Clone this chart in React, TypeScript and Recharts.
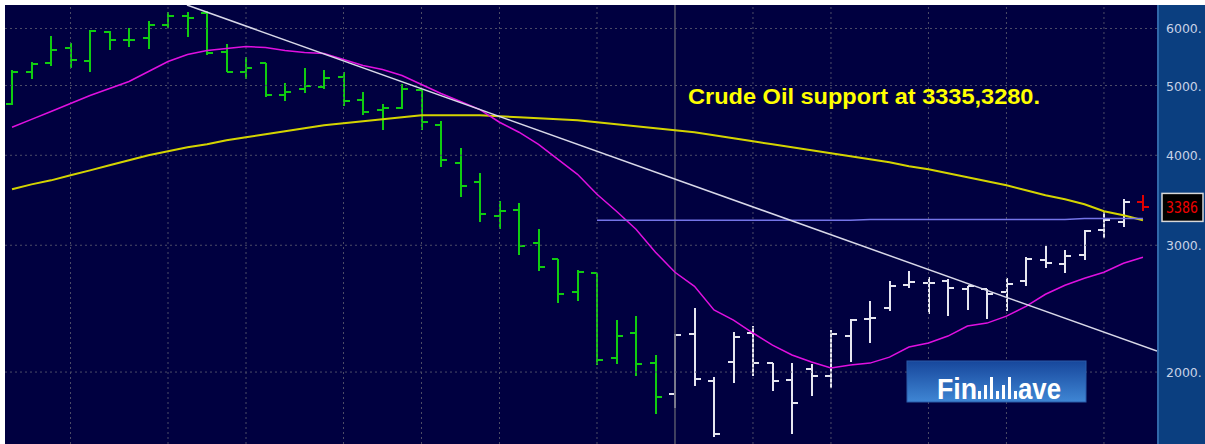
import { ComposedChart, Bar, Line, XAxis, YAxis, ReferenceLine } from 'recharts';

// weekly OHLC
const opens = [4720, 5229, 5365, 5646, 5399, 5924, 5774, 5811, 6077, 6235, 6295, 5574, 5213, 5365, 4858, 4952, 4984, 5146, 4781, 4616, 4660, 4936, 4403, 3899, 3669, 3292, 3356, 3019, 2869, 2582, 2743, 2092, 2266, 2058, 1864, 2258, 1943, 2065, 2266, 2058, 1949, 2019, 1975, 2244, 2369, 2452, 2640, 2657, 2674, 2606, 2606, 2582, 2674, 2859, 2823, 2906, 3148, 3229, 3442];
const highs = [5246, 5382, 5849, 5737, 5962, 5943, 6000, 6136, 6315, 6315, 6335, 5701, 5469, 5365, 5048, 5280, 5262, 5213, 4905, 4720, 5032, 4936, 4460, 4090, 3776, 3453, 3431, 3158, 2869, 2769, 2743, 2362, 2392, 2112, 2258, 2455, 1968, 2273, 2317, 2058, 2058, 2052, 2287, 2369, 2513, 2674, 2760, 2708, 2691, 2631, 2606, 2699, 2887, 2990, 2952, 3148, 3334, 3475, 3520];
const lows = [4705, 5113, 5314, 5280, 5213, 5610, 5664, 5628, 6000, 5830, 5521, 5213, 5097, 4827, 4751, 4874, 4952, 4690, 4557, 4333, 4645, 4333, 3849, 3497, 3229, 3158, 2906, 2760, 2492, 2508, 2045, 2052, 1975, 1749, 1782, 1912, 1624, 1931, 1975, 1882, 1640, 1852, 1900, 2065, 2195, 2429, 2615, 2406, 2390, 2437, 2369, 2429, 2631, 2787, 2743, 2859, 3068, 3178, 3345];
const closes = [5229, 5348, 5610, 5417, 5943, 5774, 5774, 6058, 6235, 6195, 5539, 5213, 5296, 4843, 4905, 5000, 5129, 4751, 4601, 4660, 4952, 4446, 3937, 3622, 3313, 3345, 2990, 2796, 2565, 2752, 2078, 2244, 2052, 1846, 2251, 1956, 1640, 2237, 2058, 1943, 1811, 1975, 2258, 2362, 2377, 2631, 2665, 2657, 2615, 2631, 2565, 2648, 2869, 2832, 2896, 3137, 3250, 3442, 3386];

// moving averages as drawn
const maFast = [4375, 4487, 4601, 4720, 4843, 4952, 5064, 5229, 5399, 5521, 5592, 5628, 5664, 5646, 5592, 5556, 5539, 5434, 5330, 5262, 5162, 5016, 4874, 4751, 4630, 4446, 4306, 4143, 3949, 3764, 3531, 3345, 3158, 2934, 2752, 2631, 2439, 2362, 2266, 2180, 2112, 2065, 2026, 2045, 2058, 2098, 2167, 2195, 2244, 2317, 2339, 2392, 2468, 2565, 2640, 2699, 2752, 2832, 2887];
const maSlow = [3588, 3645, 3692, 3752, 3812, 3874, 3937, 4000, 4052, 4104, 4143, 4197, 4237, 4278, 4319, 4361, 4403, 4431, 4460, 4488, 4516, 4546, 4546, 4546, 4546, 4532, 4516, 4502, 4488, 4474, 4446, 4417, 4389, 4361, 4333, 4306, 4264, 4224, 4183, 4143, 4104, 4064, 4026, 3987, 3949, 3912, 3862, 3825, 3776, 3728, 3681, 3634, 3577, 3520, 3475, 3421, 3345, 3302, 3250];

// horizontal support line, starts at week 30
const supportStart = 30;
const supportValues = [3250, 3250, 3250, 3250, 3250, 3250, 3250, 3250, 3250, 3250, 3250, 3250, 3250, 3250, 3258, 3258, 3258, 3258, 3258, 3258, 3258, 3258, 3258, 3258, 3258, 3268, 3268, 3268, 3268];

// falling trendline endpoints (week index, price)
const trendX = [8.97, 58.72];
const trendY = [6468, 2139];

const priceTicks = [2000, 3000, 4000, 5000, 6000];
const monthLines = [3, 8, 12, 17, 21, 25, 30, 38, 42, 47, 51, 56];
const yearLine = 34;
const whiteFrom = 34;

const data = opens.map((o, i) => ({
  i,
  open: o,
  high: highs[i],
  low: lows[i],
  close: closes[i],
  range: [lows[i], highs[i]],
  fast: maFast[i],
  slow: maSlow[i],
  support: i >= supportStart ? supportValues[i - supportStart] : null,
}));

const barColor = (i: number) => (i === data.length - 1 ? '#e00000' : i >= whiteFrom ? '#e6e6f0' : '#10cc10');

const OhlcShape = (props: any) => {
  const { x, y, width, height, index } = props;
  const d = data[index];
  if (!d || x == null) return null;
  const cx = Math.round(x + width / 2);
  const top = Math.min(y, y + height);
  const h = Math.abs(height);
  const lnH = Math.log(d.high);
  const lnL = Math.log(d.low);
  const at = (v: number) => Math.round(lnH === lnL ? top : top + (h * (lnH - Math.log(v))) / (lnH - lnL));
  const c = barColor(index);
  return (
    <g stroke={c} strokeWidth={2} shapeRendering="crispEdges">
      <line x1={cx} x2={cx} y1={top} y2={top + h} />
      <line x1={cx - 6} x2={cx} y1={at(d.open)} y2={at(d.open)} />
      <line x1={cx} x2={cx + 6} y1={at(d.close)} y2={at(d.close)} />
    </g>
  );
};

// the axis labels show as "6000." in the picture
const AxisTick = ({ y, payload }: any) => (
  <text x={1166} y={y} dy={5} fill="#c8d2e6" fontSize={12.5} fontFamily="DejaVu Sans, sans-serif">
    {payload.value + '.'}
  </text>
);

const PriceLabel = (props: any) => {
  const vb = props.viewBox || {};
  const yy = vb.y ?? 0;
  return (
    <g>
      <rect x={1162} y={yy - 14} width={41} height={28} fill="#000" stroke="#d8d8d8" strokeWidth={1.5} />
      <text x={1166} y={yy + 6} fill="#ee0000" fontSize={15} fontFamily="DejaVu Sans Mono, monospace" textLength={32} lengthAdjust="spacingAndGlyphs">
        {closes[closes.length - 1]}
      </text>
    </g>
  );
};

const wBars = [
  { dx: 0, h: 8 },
  { dx: 6, h: 14 },
  { dx: 12, h: 22 },
  { dx: 18, h: 8 },
  { dx: 24, h: 14 },
  { dx: 30, h: 22 },
  { dx: 36, h: 8 },
];

export default function App() {
  return (
    <div style={{ position: 'relative', width: 1205, height: 444, background: '#fff', overflow: 'hidden' }}>
      <style>{'body{margin:0}'}</style>
      <div style={{ position: 'absolute', left: 5, top: 5, width: 1152, height: 439, background: '#000040' }} />
      <div
        style={{
          position: 'absolute', left: 1157, top: 5, width: 48, height: 439,
          background: '#0b3f80', borderLeft: '2px solid #3068aa', boxSizing: 'border-box',
        }}
      />
      <div style={{ position: 'absolute', left: 0, top: 0 }}>
        <ComposedChart width={1205} height={444} data={data} margin={{ top: 5, right: 0, bottom: 0, left: 5 }}>
          <XAxis dataKey="i" type="number" domain={[-0.36, 58.72]} allowDataOverflow hide />
          <YAxis
            orientation="right"
            scale="log"
            domain={[1589, 6468]}
            allowDataOverflow
            ticks={priceTicks}
            width={48}
            axisLine={false}
            tickLine={false}
            tick={<AxisTick />}
          />
          {priceTicks.map((t) => (
            <ReferenceLine key={'h' + t} y={t} stroke="#4c4c66" strokeDasharray="2 3" />
          ))}
          {monthLines.map((m) => (
            <ReferenceLine key={'v' + m} x={m} stroke="#4c4c66" strokeDasharray="2 3" />
          ))}
          <ReferenceLine x={yearLine} stroke="#55556a" strokeWidth={1.5} />
          <Line dataKey="slow" stroke="#d4d400" strokeWidth={2} dot={false} isAnimationActive={false} />
          <Line dataKey="fast" stroke="#e010e0" strokeWidth={1.5} dot={false} isAnimationActive={false} />
          <Line dataKey="support" stroke="#7474e8" strokeWidth={1.5} dot={false} isAnimationActive={false} />
          <ReferenceLine
            segment={[{ x: trendX[0], y: trendY[0] }, { x: trendX[1], y: trendY[1] }]}
            stroke="#d8d8e8"
            strokeWidth={1.5}
            ifOverflow="hidden"
          />
          <Bar dataKey="range" barSize={12} shape={<OhlcShape />} isAnimationActive={false} />
          <ReferenceLine y={closes[closes.length - 1]} stroke="none" label={<PriceLabel />} />
        </ComposedChart>
      </div>
      <svg width={1205} height={444} style={{ position: 'absolute', left: 0, top: 0, pointerEvents: 'none' }}>
        <text
          x={688} y={104} fill="#ffff00" fontSize={22} fontWeight="bold"
          fontFamily="Liberation Sans, Arial, sans-serif" textLength={352} lengthAdjust="spacingAndGlyphs"
        >
          Crude Oil support at 3335,3280.
        </text>
        <defs>
          <linearGradient id="logoGrad" x1="0" y1="0" x2="0" y2="1">
            <stop offset="0" stopColor="#17479c" />
            <stop offset="1" stopColor="#3f86d4" />
          </linearGradient>
        </defs>
        <rect x={907} y={361} width={179} height={41} fill="url(#logoGrad)" stroke="#2a5aa8" />
        <text x={937} y={399} fill="#fff" fontSize={29} fontWeight="bold" fontFamily="Liberation Sans, sans-serif" textLength={40} lengthAdjust="spacingAndGlyphs">
          Fin
        </text>
        {wBars.map((b, k) => (
          <rect key={k} x={978 + b.dx} y={399 - b.h} width={3} height={b.h} fill="#fff" />
        ))}
        <text x={1018} y={399} fill="#fff" fontSize={29} fontWeight="bold" fontFamily="Liberation Sans, sans-serif" textLength={43} lengthAdjust="spacingAndGlyphs">
          ave
        </text>
      </svg>
    </div>
  );
}
